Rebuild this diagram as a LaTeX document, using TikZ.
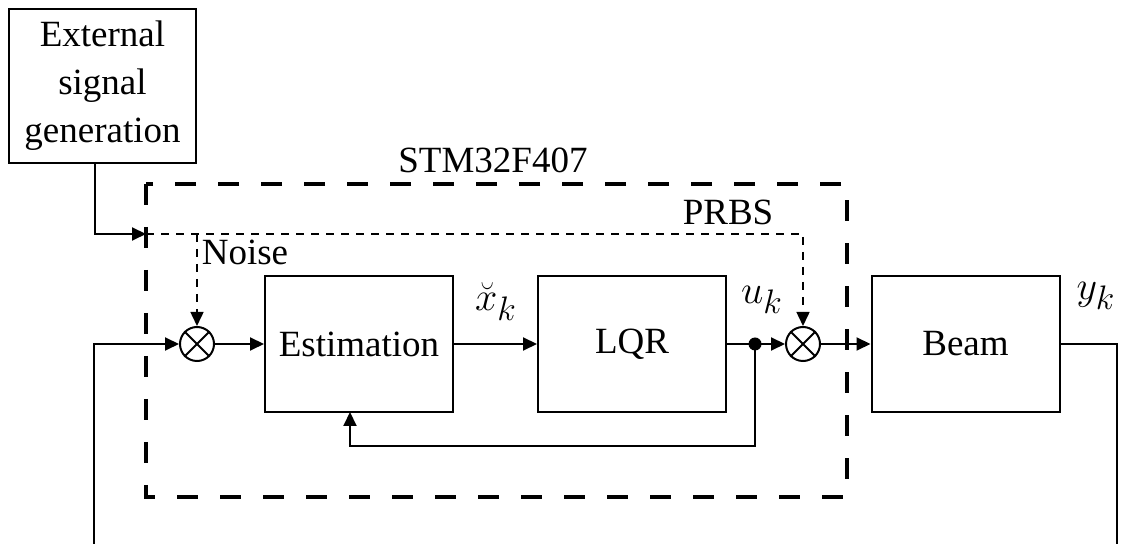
\RequirePackage{fix-cm}
\documentclass[tikz,border=0pt]{standalone}
\usepackage{fontspec}
\setmainfont{Liberation Serif}
\usetikzlibrary{arrows.meta}
% subscript index set at a fixed, fairly large size
\newcommand{\subk}{\mbox{\fontsize{17}{20}\selectfont$k$}}
\begin{document}
\begin{tikzpicture}[x=0.5pt,y=-0.5pt,
  font=\fontsize{18.5}{24}\selectfont,
  every path/.style={line width=1pt},
  blk/.style={draw,line width=1pt,rectangle,minimum width=94pt,minimum height=68pt,inner sep=0pt},
  sumnode/.style={draw,line width=1pt,circle,minimum size=17pt,inner sep=0pt},
  junction/.style={fill,circle,minimum size=6.5pt,inner sep=0pt},
  sig/.style={line width=1pt,-{Triangle[length=7pt,width=6.5pt]}},
  sigdash/.style={line width=0.75pt,dash pattern=on 4pt off 3.5pt,-{Triangle[length=7pt,width=6.5pt,line width=0.75pt]}},
  mcubox/.style={line width=2pt,dash pattern=on 10.5pt off 11pt},
  lbl/.style={inner sep=0pt},
  mathlbl/.style={inner sep=0pt,font=\fontsize{20}{26}\selectfont}]
\useasboundingbox (0,0) rectangle (1124,544);

% controller board outline
\draw[mcubox] (146,184) rectangle (847,497);
\node[lbl] (mcu) at (493,160) {STM32F407};

% blocks
\node[blk,minimum width=93.5pt,minimum height=77pt,align=center] (ext) at (102.5,86)
  {External\\signal\\generation};
\node[blk] (est) at (359,344) {Estimation};
\node[blk] (lqr) at (632,344) {LQR};
\node[blk] (beam) at (965.5,344) {Beam};

% summing junctions
\node[sumnode] (s1) at (197,344) {};
\node[sumnode] (s2) at (803,344) {};
\foreach \s in {s1,s2}{
  \draw[line width=0.9pt] (\s.north west) -- (\s.south east);
  \draw[line width=0.9pt] (\s.north east) -- (\s.south west);
}
\node[junction] (d) at (755,344) {};

% helper points
\coordinate (extout) at (95,163);
\coordinate (inj) at (146,234);
\coordinate (prbs) at (803,234);
\coordinate (noise) at (197,234);
\coordinate (fbin) at (94,544);
\coordinate (fbout) at (1117,544);
\coordinate (estfb) at (350,412);

% external signal into the board, split into noise and PRBS
\draw[sig] (extout) |- (inj);
\draw[sigdash] (inj) -- (prbs) -- (s2.north);
\draw[sigdash] (noise) -- (s1.north);
\node[lbl] (noiselbl) at (245,252) {Noise};
\node[lbl] (prbslbl) at (728,212) {PRBS};

% main loop
\draw[sig] (fbin) |- (s1.west);
\draw[sig] (s1.east) -- (est.west);
\draw[sig] (est.east) -- (lqr.west);
\draw (lqr.east) -- (d.center);
\draw[sig] (d.center) -- (s2.west);
\draw[sig] (s2.east) -- (beam.west);
\draw (beam.east) -| (fbout);
\draw[sig] (d.center) |- (350,446) -- (estfb);

% signal labels
\node[mathlbl] (xk) at (496,302) {$\breve{x}_{\subk}$};
\node[mathlbl] (uk) at (762,300) {$u_{\subk}$};
\node[mathlbl] (yk) at (1096,296) {$y_{\subk}$};
\end{tikzpicture}
\end{document}
